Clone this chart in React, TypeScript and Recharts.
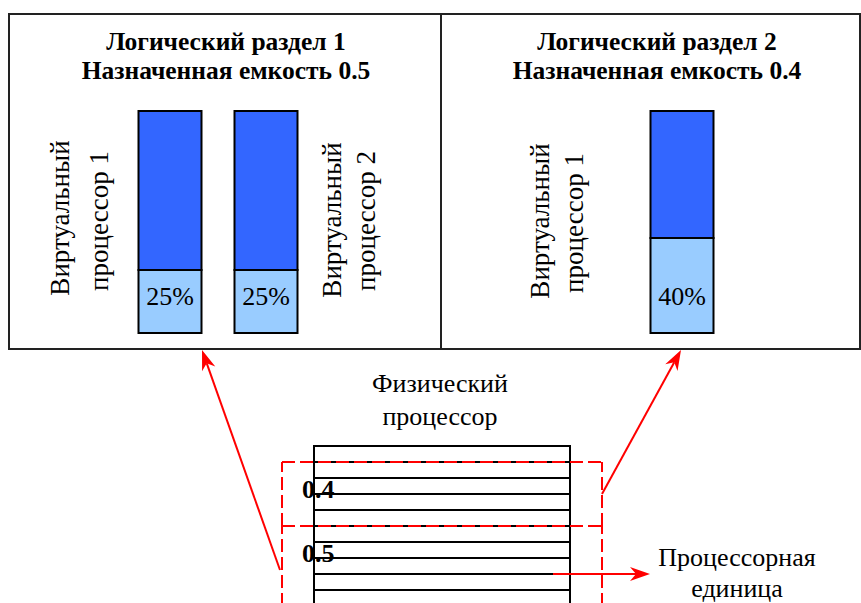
import React from 'react';
import {
  BarChart,
  Bar,
  XAxis,
  YAxis,
  LabelList,
  ComposedChart,
  ReferenceArea,
  ReferenceLine,
} from 'recharts';

// ---- Logical partition 1 (entitled capacity 0.5) ----
const lpar1Cpus = ['Виртуальный процессор 1', 'Виртуальный процессор 2'];
const lpar1Used = [28.4, 28.4];
const lpar1Free = [71.6, 71.6];
const lpar1Pct = ['25%', '25%'];

// ---- Logical partition 2 (entitled capacity 0.4) ----
const lpar2Cpus = ['Виртуальный процессор 1'];
const lpar2Used = [42.8];
const lpar2Free = [57.2];
const lpar2Pct = ['40%'];

// ---- Physical processor: processing-unit boundaries and entitlements ----
const unitBounds = [0.1, 0.2, 0.3, 0.4, 0.5, 0.6, 0.7, 0.8, 0.9];
const entFrom = [0.5, 0.0];
const entTo = [0.9, 0.5];
const entLabels = ['0.4', '0.5'];

const titles1 = ['Логический раздел 1', 'Назначенная емкость 0.5'];
const titles2 = ['Логический раздел 2', 'Назначенная емкость 0.4'];

const FONT = 'Liberation Serif';
const DARK = '#3366FF';
const LIGHT = '#99CCFF';
const RED = '#FF0000';

const lpar1Data = lpar1Cpus.map((name, i) => ({
  name,
  used: lpar1Used[i],
  free: lpar1Free[i],
  pct: lpar1Pct[i],
}));
const lpar2Data = lpar2Cpus.map((name, i) => ({
  name,
  used: lpar2Used[i],
  free: lpar2Free[i],
  pct: lpar2Pct[i],
}));
const procData = unitBounds.map((b) => ({ b }));

const PctLabel = (props: any) => {
  const { x, y, width, height, value } = props;
  return (
    <text
      x={x + width / 2}
      y={y + height - 28}
      textAnchor="middle"
      style={{ fontFamily: FONT, fontSize: 26 }}
      fill="#000"
    >
      {value}
    </text>
  );
};

const EntLabel = (text: string) => (props: any) => {
  const vb = props.viewBox || {};
  return (
    <text
      x={vb.x + 20}
      y={vb.y + 36}
      style={{ fontFamily: FONT, fontSize: 26, fontWeight: 'bold' }}
      fill="#000"
    >
      {text}
    </text>
  );
};

function Arrow({ x1, y1, x2, y2 }: { x1: number; y1: number; x2: number; y2: number }) {
  const dx = x2 - x1;
  const dy = y2 - y1;
  const len = Math.sqrt(dx * dx + dy * dy);
  const ux = dx / len;
  const uy = dy / len;
  const px = -uy;
  const py = ux;
  const L = 20;
  const W = 7;
  const N = 14;
  const bx = x2 - ux * L;
  const by = y2 - uy * L;
  const nx = x2 - ux * N;
  const ny = y2 - uy * N;
  const pts = [
    [x2, y2],
    [bx + px * W, by + py * W],
    [nx, ny],
    [bx - px * W, by - py * W],
  ]
    .map((p) => p.join(','))
    .join(' ');
  return (
    <g>
      <line x1={x1} y1={y1} x2={nx} y2={ny} stroke={RED} strokeWidth={2} />
      <polygon points={pts} fill={RED} />
    </g>
  );
}

const VText = ({ x, y, children }: { x: number; y: number; children: React.ReactNode }) => (
  <text
    x={x}
    y={y}
    transform={`rotate(-90 ${x} ${y})`}
    textAnchor="middle"
    style={{ fontFamily: FONT, fontSize: 27 }}
    fill="#000"
  >
    {children}
  </text>
);

const Title = ({ x, lines }: { x: number; lines: string[] }) => (
  <g style={{ fontFamily: FONT, fontSize: 25.5, fontWeight: 'bold' }} fill="#000" textAnchor="middle">
    <text x={x} y={50}>{lines[0]}</text>
    <text x={x} y={78.5}>{lines[1]}</text>
  </g>
);

export default function App() {
  return (
    <div
      style={{
        position: 'absolute',
        left: 0,
        top: 0,
        width: 861,
        height: 603,
        overflow: 'hidden',
        background: '#fff',
        fontFamily: FONT,
      }}
    >
      {/* Physical processor */}
      <div style={{ position: 'absolute', left: 0, top: 430 }}>
        <ComposedChart
          width={861}
          height={190}
          data={procData}
          margin={{ top: 16, bottom: 14, left: 282, right: 259 }}
        >
          <XAxis type="number" dataKey="b" domain={[-0.125, 1.125]} allowDataOverflow hide />
          <YAxis type="number" domain={[0, 1]} allowDataOverflow hide />
          <ReferenceArea
            x1={0}
            x2={1}
            y1={0}
            y2={1}
            fill="#fff"
            fillOpacity={1}
            stroke="#000"
            strokeWidth={2}
            ifOverflow="visible"
          />
          {unitBounds.map((b) => (
            <ReferenceLine
              key={'u' + b}
              segment={[
                { x: 0, y: b },
                { x: 1, y: b },
              ]}
              stroke="#000"
              strokeWidth={2}
              ifOverflow="visible"
            />
          ))}
          {entFrom.map((f, i) => (
            <React.Fragment key={'e' + i}>
              <ReferenceLine
                segment={[
                  { x: -0.125, y: entTo[i] },
                  { x: 1.125, y: entTo[i] },
                ]}
                stroke={RED}
                strokeWidth={2}
                strokeDasharray="13 5"
                ifOverflow="visible"
              />
              <ReferenceLine
                segment={[
                  { x: -0.125, y: f },
                  { x: -0.125, y: entTo[i] },
                ]}
                stroke={RED}
                strokeWidth={2}
                strokeDasharray="13 5"
                ifOverflow="visible"
              />
              <ReferenceLine
                segment={[
                  { x: 1.125, y: f },
                  { x: 1.125, y: entTo[i] },
                ]}
                stroke={RED}
                strokeWidth={2}
                strokeDasharray="13 5"
                ifOverflow="visible"
              />
              <ReferenceArea
                x1={-0.125}
                x2={1.125}
                y1={f}
                y2={entTo[i]}
                fill="none"
                stroke="none"
                ifOverflow="visible"
                label={EntLabel(entLabels[i])}
              />
            </React.Fragment>
          ))}
        </ComposedChart>
      </div>

      {/* Logical partition 1 */}
      <div style={{ position: 'absolute', left: 9, top: 14 }}>
        <BarChart
          width={432}
          height={335}
          data={lpar1Data}
          margin={{ top: 97, bottom: 16, left: 112.5, right: 127.5 }}
        >
          <XAxis dataKey="name" hide />
          <YAxis type="number" domain={[0, 100]} hide />
          <Bar
            dataKey="used"
            stackId="a"
            fill={LIGHT}
            stroke="#000"
            strokeWidth={2}
            barSize={63}
            isAnimationActive={false}
          >
            <LabelList dataKey="pct" content={PctLabel} />
          </Bar>
          <Bar
            dataKey="free"
            stackId="a"
            fill={DARK}
            stroke="#000"
            strokeWidth={2}
            barSize={63}
            isAnimationActive={false}
          />
        </BarChart>
      </div>

      {/* Logical partition 2 */}
      <div style={{ position: 'absolute', left: 441, top: 14 }}>
        <BarChart
          width={420}
          height={335}
          data={lpar2Data}
          margin={{ top: 97, bottom: 16, left: 192.5, right: 131.5 }}
        >
          <XAxis dataKey="name" hide />
          <YAxis type="number" domain={[0, 100]} hide />
          <Bar
            dataKey="used"
            stackId="a"
            fill={LIGHT}
            stroke="#000"
            strokeWidth={2}
            barSize={63}
            isAnimationActive={false}
          >
            <LabelList dataKey="pct" content={PctLabel} />
          </Bar>
          <Bar
            dataKey="free"
            stackId="a"
            fill={DARK}
            stroke="#000"
            strokeWidth={2}
            barSize={63}
            isAnimationActive={false}
          />
        </BarChart>
      </div>

      {/* Frames, titles, annotations */}
      <svg
        width={861}
        height={603}
        style={{ position: 'absolute', left: 0, top: 0, pointerEvents: 'none', fontFamily: FONT }}
      >
        <rect x={9} y={14} width={851} height={335} fill="none" stroke="#222" strokeWidth={2} />
        <line x1={441} y1={14} x2={441} y2={349} stroke="#222" strokeWidth={2} />

        <Title x={226} lines={titles1} />
        <Title x={657} lines={titles2} />

        <VText x={69} y={218}>Виртуальный</VText>
        <VText x={108} y={221}>процессор 1</VText>
        <VText x={341} y={220}>Виртуальный</VText>
        <VText x={375} y={221}>процессор 2</VText>
        <VText x={549} y={221}>Виртуальный</VText>
        <VText x={583} y={223}>процессор 1</VText>

        <g style={{ fontFamily: FONT, fontSize: 26 }} fill="#000" textAnchor="middle">
          <text x={440} y={392}>Физический</text>
          <text x={440} y={425}>процессор</text>
          <text x={737} y={566}>Процессорная</text>
          <text x={737} y={597}>единица</text>
        </g>

        <Arrow x1={280} y1={570} x2={202} y2={350} />
        <Arrow x1={602} y1={494} x2={681} y2={350} />
        <Arrow x1={553} y1={574} x2={650} y2={574} />
      </svg>
    </div>
  );
}
